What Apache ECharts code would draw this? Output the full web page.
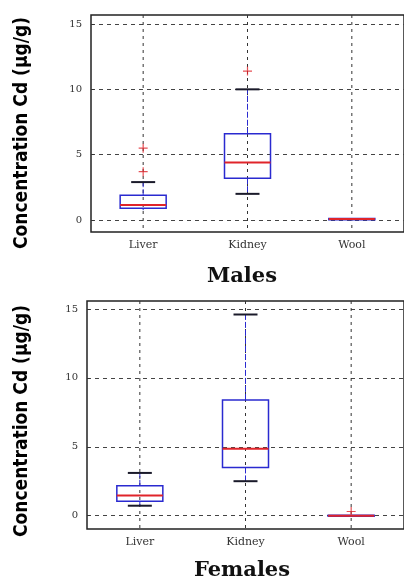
<!DOCTYPE html>
<html>
<head>
<meta charset="utf-8">
<script src="https://cdn.jsdelivr.net/npm/echarts@6/dist/echarts.min.js"></script>
<style>
  html, body { margin: 0; padding: 0; background: #fff; }
  #main { width: 404px; height: 584px; }
</style>
</head>
<body>
<div id="main"></div>
<script>
// categories and box values: [min, q1, median, q3, max]
var categories = ['Liver', 'Kidney', 'Wool'];
var malesBox = [
  [0.75, 0.9, 1.15, 1.9, 2.9],
  [2.0, 3.2, 4.4, 6.6, 10.0],
  [0, 0.02, 0.08, 0.12, 0.12]
];
var femalesBox = [
  [0.72, 1.04, 1.47, 2.17, 3.1],
  [2.5, 3.5, 4.85, 8.4, 14.6],
  [0, 0, 0, 0.02, 0.02]
];
// outliers: [category index, value]
var malesOut = [[0, 3.7], [0, 5.5], [1, 11.4]];
var femalesOut = [[2, 0.3]];
var yTicks = [0, 5, 10, 15];

var BLUE = '#2a2ad0', RED = '#e0242a', CAP = '#1a1a2a';
var plus = 'path://M5,0L5,10M0,5L10,5';

function boxData(arr) {
  return arr.map(function (b, i) { return [i].concat(b); });
}

function renderBox(params, api) {
  var x = api.value(0);
  var pMin = api.coord([x, api.value(1)]);
  var pQ1 = api.coord([x, api.value(2)]);
  var pMed = api.coord([x, api.value(3)]);
  var pQ3 = api.coord([x, api.value(4)]);
  var pMax = api.coord([x, api.value(5)]);
  var cx = pMed[0], hb = 23, hc = 12;
  var wStyle = { stroke: BLUE, lineWidth: 1, lineDash: [6, 2] };
  var kids = [
    { type: 'line', shape: { x1: cx, y1: pQ3[1], x2: cx, y2: pMax[1] }, style: wStyle },
    { type: 'line', shape: { x1: cx, y1: pQ1[1], x2: cx, y2: pMin[1] }, style: wStyle }
  ];
  // caps only where the whisker is visible
  if (pQ3[1] - pMax[1] > 3) {
    kids.push({ type: 'line', shape: { x1: cx - hc, y1: pMax[1], x2: cx + hc, y2: pMax[1] }, style: { stroke: CAP, lineWidth: 2 } });
  }
  if (pMin[1] - pQ1[1] > 3) {
    kids.push({ type: 'line', shape: { x1: cx - hc, y1: pMin[1], x2: cx + hc, y2: pMin[1] }, style: { stroke: CAP, lineWidth: 2 } });
  }
  kids.push(
    { type: 'rect', shape: { x: cx - hb, y: pQ3[1], width: hb * 2, height: Math.max(pQ1[1] - pQ3[1], 1) },
      style: { fill: 'none', stroke: BLUE, lineWidth: 1.5 } },
    { type: 'line', shape: { x1: cx - hb, y1: pMed[1], x2: cx + hb, y2: pMed[1] }, style: { stroke: RED, lineWidth: 2 } }
  );
  return { type: 'group', children: kids };
}

function renderVGrid(params, api) {
  var cs = params.coordSys;
  var x = api.coord([api.value(0), 0])[0];
  return {
    type: 'line',
    shape: { x1: x, y1: cs.y, x2: x, y2: cs.y + cs.height },
    style: { stroke: '#333', lineWidth: 1, lineDash: [3, 4] }
  };
}

var myChart = echarts.init(document.getElementById('main'));

function xAx(gi) {
  return {
    type: 'category', gridIndex: gi, data: categories, boundaryGap: true,
    axisLine: { show: false }, axisTick: { show: false },
    axisLabel: { margin: 8, fontFamily: 'DejaVu Serif', fontSize: 11, color: '#333' },
    splitLine: { show: false }
  };
}
function yAx(gi, min, max) {
  return {
    type: 'value', gridIndex: gi, min: min, max: max,
    axisLine: { show: false },
    axisTick: { show: true, inside: true, length: 3, customValues: yTicks, lineStyle: { color: '#333' } },
    axisLabel: { margin: 9, fontFamily: 'DejaVu Serif', fontSize: 10, color: '#333', customValues: yTicks },
    splitLine: { show: true, lineStyle: { color: '#444', type: [4, 4], width: 1 } }
  };
}

var gridSeries = [0, 1].map(function (gi) {
  return {
    type: 'custom', xAxisIndex: gi, yAxisIndex: gi, z: 1, silent: true,
    data: categories.map(function (c, i) { return [i]; }),
    renderItem: renderVGrid
  };
});

var yTitleFont = 'bold 19px "DejaVu Sans Condensed"';

var option = {
  animation: false,
  grid: [
    { left: 91, top: 15, right: -1, height: 217, show: true, borderColor: '#222', borderWidth: 1.5, backgroundColor: '#fff' },
    { left: 87, top: 301, right: -2, height: 228, show: true, borderColor: '#222', borderWidth: 1.5, backgroundColor: '#fff' }
  ],
  xAxis: [xAx(0), xAx(1)],
  yAxis: [yAx(0, -0.92, 15.69), yAx(1, -0.97, 15.58)],
  graphic: [
    { type: 'text', x: 242, y: 277, style: { text: 'Males', align: 'center', verticalAlign: 'middle',
      font: 'bold 21px "DejaVu Serif"', fill: '#111' } },
    { type: 'text', x: 242, y: 571, style: { text: 'Females', align: 'center', verticalAlign: 'middle',
      font: 'bold 21px "DejaVu Serif"', fill: '#111' } },
    { type: 'text', x: 22, y: 133, rotation: Math.PI / 2, style: { text: 'Concentration Cd (µg/g)', align: 'center',
      verticalAlign: 'middle', font: yTitleFont, fill: '#000' } },
    { type: 'text', x: 22, y: 421, rotation: Math.PI / 2, style: { text: 'Concentration Cd (µg/g)', align: 'center',
      verticalAlign: 'middle', font: yTitleFont, fill: '#000' } }
  ],
  series: gridSeries.concat([
    { type: 'custom', name: 'Males', xAxisIndex: 0, yAxisIndex: 0, z: 3,
      data: boxData(malesBox), renderItem: renderBox },
    { type: 'custom', name: 'Females', xAxisIndex: 1, yAxisIndex: 1, z: 3,
      data: boxData(femalesBox), renderItem: renderBox },
    { type: 'scatter', xAxisIndex: 0, yAxisIndex: 0, z: 4, data: malesOut,
      symbol: plus, symbolSize: 9, itemStyle: { color: 'none', borderColor: RED, borderWidth: 1.2 } },
    { type: 'scatter', xAxisIndex: 1, yAxisIndex: 1, z: 4, data: femalesOut,
      symbol: plus, symbolSize: 9, itemStyle: { color: 'none', borderColor: RED, borderWidth: 1.2 } }
  ])
};

myChart.setOption(option);
window.addEventListener('resize', function () {
  myChart.resize();
});
</script>
</body>
</html>
